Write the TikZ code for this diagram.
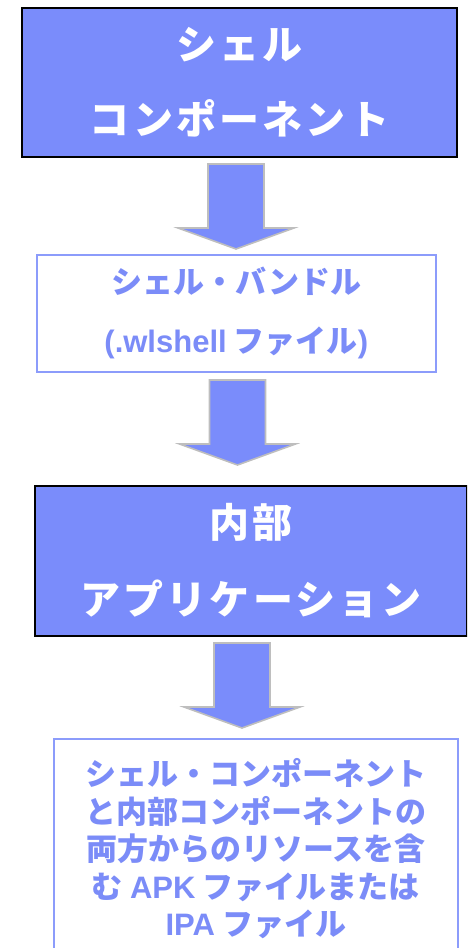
\documentclass[tikz,border=0pt]{standalone}
\usepackage{fontspec}
\setmainfont{Noto Sans CJK JP}
\newfontfamily\latfont{Liberation Sans}
\definecolor{boxblue}{RGB}{122,140,251}
\definecolor{txtblue}{RGB}{123,140,248}
\definecolor{lineblue}{RGB}{140,156,251}
\definecolor{arrgray}{RGB}{190,190,190}
\tikzset{
  darkbox/.style={draw=black, line width=2pt, fill=boxblue, text=white, anchor=north west, inner sep=0pt, align=center},
  lightbox/.style={draw=lineblue, line width=1.6pt, fill=white, text=txtblue, anchor=north west, inner sep=0pt, align=center},
  blockarrow/.style={draw=arrgray, line width=1.6pt, fill=boxblue, line join=miter}
}
\begin{document}
\begin{tikzpicture}[x=1pt, y=-1pt]
\useasboundingbox (0,0) rectangle (467,948);
\begin{scope}
\clip (0,0) rectangle (467,948);
\node[darkbox, minimum width=435pt, minimum height=149pt, font={\bfseries\fontsize{40}{75}\selectfont\addfontfeature{LetterSpace=8}}] (b1) at (21,7)
  {シェル\\ コンポーネント};
\node[lightbox, minimum width=399pt, minimum height=117pt, font={\bfseries\fontsize{31}{59}\selectfont}] (b2) at (36,254)
  {シェル・バンドル\\ {\latfont (.wlshell} ファイル{\latfont )}};
\node[darkbox, minimum width=432pt, minimum height=150pt, font={\bfseries\fontsize{40}{77}\selectfont\addfontfeature{LetterSpace=8}}] (b3) at (34,485)
  {内部\\ アプリケーション};
\node[lightbox, minimum width=404pt, minimum height=220pt, font={\bfseries\fontsize{31}{37.5}\selectfont}] (b4) at (53,738)
  {シェル・コンポーネント\\ と内部コンポーネントの\\ 両方からのリソースを含\\ む {\latfont APK} ファイルまたは\\ {\latfont IPA} ファイル};
\coordinate (a1) at (236,164);
\coordinate (a2) at (237.5,380);
\coordinate (a3) at (242,643);
\foreach \a in {a1,a2,a3}{
  \draw[blockarrow] (\a) +(-28,0) -- +(28,0) -- +(28,64) -- +(58,64) -- +(0,85) -- +(-58,64) -- +(-28,64) -- cycle;
}
\end{scope}
\end{tikzpicture}
\end{document}
